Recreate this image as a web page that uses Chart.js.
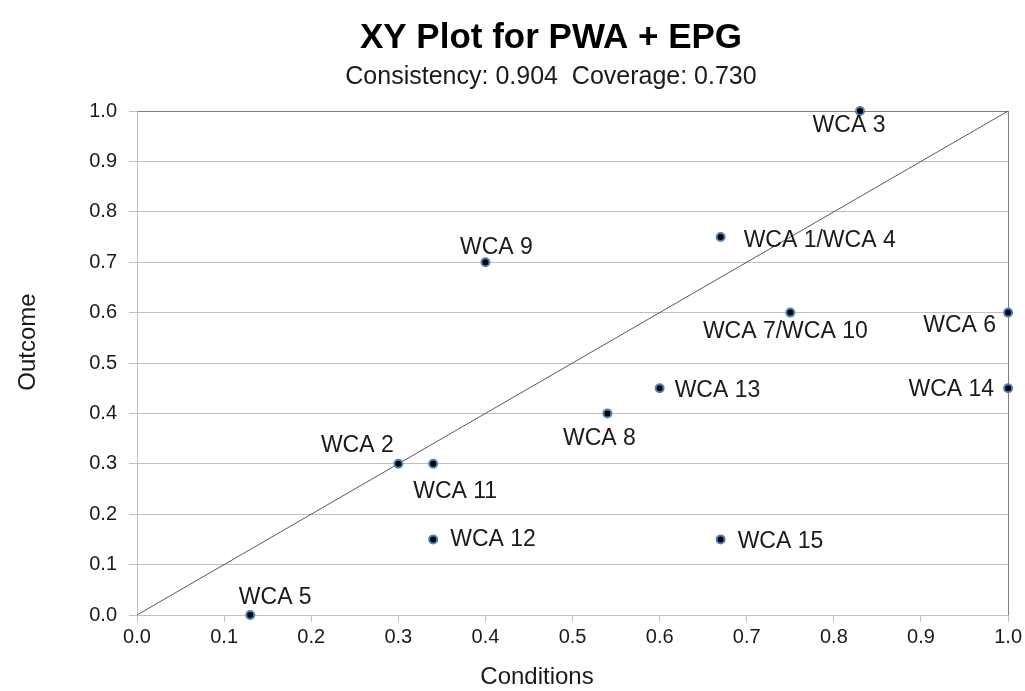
<!DOCTYPE html>
<html>
<head>
<meta charset="utf-8">
<script src="https://cdn.jsdelivr.net/npm/chart.js@4/dist/chart.umd.min.js"></script>
<style>
  body { margin: 0; background: #fff; }
  #wrap { width: 1025px; height: 691px; }
</style>
</head>
<body>
<div id="wrap"><canvas id="xyChart"></canvas></div>
<script>
// XY plot data
var caseNames = ["WCA 1/WCA 4", "WCA 2", "WCA 3", "WCA 5", "WCA 6", "WCA 7/WCA 10", "WCA 8",
                 "WCA 9", "WCA 11", "WCA 12", "WCA 13", "WCA 14", "WCA 15"];
var conditions = [0.67, 0.30, 0.83, 0.13, 1.00, 0.75, 0.54, 0.40, 0.34, 0.34, 0.60, 1.00, 0.67];
var outcome    = [0.75, 0.30, 1.00, 0.00, 0.60, 0.60, 0.40, 0.70, 0.30, 0.15, 0.45, 0.45, 0.15];
var diagonal = [[0, 0], [1, 1]];
var tickValues = [0, 0.1, 0.2, 0.3, 0.4, 0.5, 0.6, 0.7, 0.8, 0.9, 1.0];

var chartTitle = "XY Plot for PWA + EPG";
var chartSubtitle = "Consistency: 0.904  Coverage: 0.730";

// where each case label sits relative to its point
var labelPlace = [
  ["left", 23, 4], ["center", -41, -18], ["center", -11, 15], ["center", 25, -17],
  ["right", -12, 13], ["center", -5, 19], ["center", -8, 25], ["center", 11, -15],
  ["center", 22, 28], ["left", 17, 0], ["left", 15, 2], ["right", -14, 1], ["left", 17, 2]
];

var FONT = "Arial, 'Liberation Sans', sans-serif";
var GRID = "#bfbfbf";
var EDGE = "#7f7f7f";

var caseLabels = {
  id: "caseLabels",
  afterDatasetsDraw: function (chart) {
    var c = chart.ctx;
    var meta = chart.getDatasetMeta(1);
    c.save();
    c.font = "23px " + FONT;
    c.fillStyle = "#1a1a1a";
    c.textBaseline = "middle";
    meta.data.forEach(function (pt, i) {
      var p = labelPlace[i];
      c.textAlign = p[0];
      c.fillText(caseNames[i], pt.x + p[1], pt.y + p[2]);
    });
    c.restore();
  },
  afterDraw: function (chart) {
    var c = chart.ctx;
    c.save();
    c.textAlign = "center";
    c.textBaseline = "middle";
    c.fillStyle = "#000";
    c.font = "bold 35px " + FONT;
    c.fillText(chartTitle, 551, 38);
    c.fillStyle = "#1a1a1a";
    c.font = "25px " + FONT;
    c.fillText(chartSubtitle, 551, 77);
    c.font = "24px " + FONT;
    c.fillText("Conditions", 537, 677);
    c.translate(28, 342);
    c.rotate(-Math.PI / 2);
    c.fillText("Outcome", 0, 0);
    c.restore();
  }
};

var ctx = document.getElementById("xyChart").getContext("2d");
var xyChart = new Chart(ctx, {
  type: "scatter",
  data: {
    datasets: [
      {
        label: "Diagonal",
        data: diagonal.map(function (d) { return { x: d[0], y: d[1] }; }),
        showLine: true,
        borderColor: "#595959",
        borderWidth: 1,
        pointRadius: 0,
        order: 1
      },
      {
        label: "Cases",
        data: conditions.map(function (x, i) { return { x: x, y: outcome[i] }; }),
        backgroundColor: "#000000",
        borderColor: "#4f81bd",
        borderWidth: 2,
        pointRadius: 4,
        clip: false,
        order: 0
      }
    ]
  },
  options: {
    responsive: true,
    maintainAspectRatio: false,
    animation: false,
    layout: { padding: { left: 0, right: 16, top: 111, bottom: 0 } },
    plugins: {
      legend: { display: false },
      tooltip: { enabled: false },
      title: { display: false }
    },
    scales: {
      x: {
        type: "linear",
        min: 0,
        max: 1,
        afterBuildTicks: function (scale) {
          scale.ticks = tickValues.map(function (v) { return { value: v }; });
        },
        afterFit: function (scale) { scale.height = 76; },
        border: { color: GRID },
        grid: {
          color: function (c) {
            if (c.tick && c.tick.value === 1) return EDGE;
            if (c.tick && c.tick.value === 0) return GRID;
            return "rgba(0,0,0,0)";
          },
          tickColor: GRID,
          tickLength: 7
        },
        ticks: {
          color: "#1a1a1a",
          font: { family: FONT, size: 20 },
          padding: 3,
          maxRotation: 0,
          callback: function (v) { return Number(v).toFixed(1); }
        }
      },
      y: {
        type: "linear",
        min: 0,
        max: 1,
        afterBuildTicks: function (scale) {
          scale.ticks = tickValues.map(function (v) { return { value: v }; });
        },
        afterFit: function (scale) { scale.width = 137; },
        border: { color: GRID },
        grid: {
          color: function (c) {
            return c.tick && c.tick.value === 1 ? EDGE : GRID;
          },
          tickColor: GRID,
          tickLength: 8
        },
        ticks: {
          color: "#1a1a1a",
          font: { family: FONT, size: 20 },
          padding: 12,
          callback: function (v) { return Number(v).toFixed(1); }
        }
      }
    }
  },
  plugins: [caseLabels]
});
</script>
</body>
</html>
